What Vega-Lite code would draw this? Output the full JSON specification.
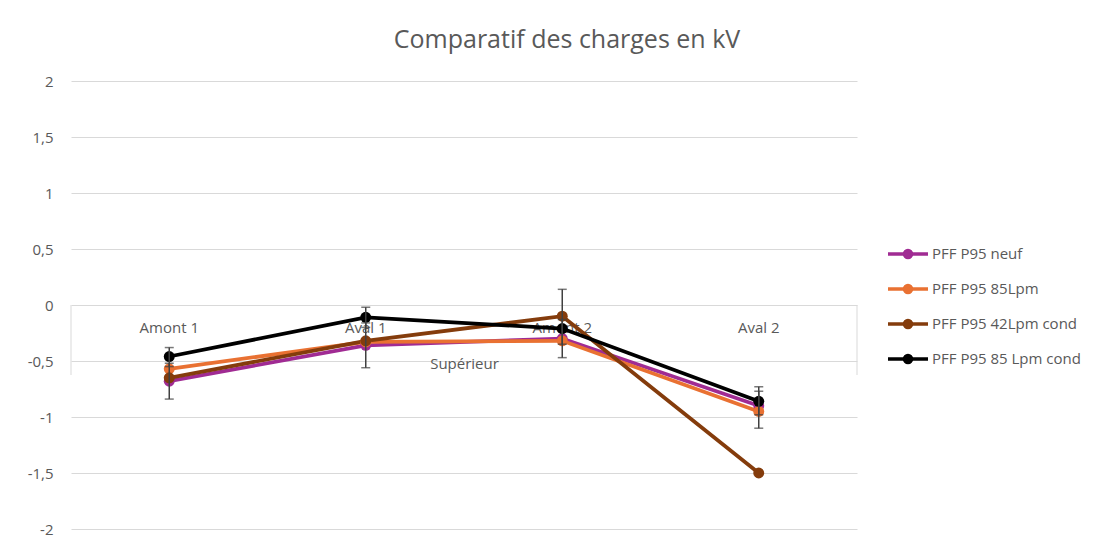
{
  "$schema": "https://vega.github.io/schema/vega-lite/v6.json",
  "width": 786,
  "height": 448,
  "padding": {"left": 71, "top": 81, "right": 242, "bottom": 21},
  "autosize": {"type": "none"},
  "background": "white",
  "config": {
    "font": "Open Sans",
    "view": {"stroke": null}
  },
  "title": {
    "text": "Comparatif des charges en kV",
    "fontSize": 25,
    "fontWeight": "normal",
    "color": "#595959",
    "font": "Open Sans",
    "dx": 103,
    "offset": 21
  },
  "datasets": {
    "series": [
      {"serie": "PFF P95 neuf", "pos": "Amont 1", "v": -0.68},
      {"serie": "PFF P95 neuf", "pos": "Aval 1", "v": -0.36},
      {"serie": "PFF P95 neuf", "pos": "Amont 2", "v": -0.30},
      {"serie": "PFF P95 neuf", "pos": "Aval 2", "v": -0.90},
      {"serie": "PFF P95 85Lpm", "pos": "Amont 1", "v": -0.57},
      {"serie": "PFF P95 85Lpm", "pos": "Aval 1", "v": -0.33},
      {"serie": "PFF P95 85Lpm", "pos": "Amont 2", "v": -0.32},
      {"serie": "PFF P95 85Lpm", "pos": "Aval 2", "v": -0.95},
      {"serie": "PFF P95 42Lpm cond", "pos": "Amont 1", "v": -0.65},
      {"serie": "PFF P95 42Lpm cond", "pos": "Aval 1", "v": -0.32},
      {"serie": "PFF P95 42Lpm cond", "pos": "Amont 2", "v": -0.10},
      {"serie": "PFF P95 42Lpm cond", "pos": "Aval 2", "v": -1.50},
      {"serie": "PFF P95 85 Lpm cond", "pos": "Amont 1", "v": -0.46},
      {"serie": "PFF P95 85 Lpm cond", "pos": "Aval 1", "v": -0.11},
      {"serie": "PFF P95 85 Lpm cond", "pos": "Amont 2", "v": -0.21},
      {"serie": "PFF P95 85 Lpm cond", "pos": "Aval 2", "v": -0.86}
    ],
    "errors": [
      {"pos": "Amont 1", "lo": -0.55, "hi": -0.38},
      {"pos": "Amont 1", "lo": -0.84, "hi": -0.52},
      {"pos": "Aval 1", "lo": -0.20, "hi": -0.02},
      {"pos": "Aval 1", "lo": -0.56, "hi": -0.16},
      {"pos": "Amont 2", "lo": -0.35, "hi": 0.14},
      {"pos": "Amont 2", "lo": -0.47, "hi": -0.13},
      {"pos": "Aval 2", "lo": -0.98, "hi": -0.73},
      {"pos": "Aval 2", "lo": -1.10, "hi": -0.77}
    ],
    "edges": [
      {"pos": "Amont 1", "top": 0, "bottom": -0.625},
      {"pos": "Aval 2", "top": 0, "bottom": -0.625}
    ]
  },
  "encoding": {
    "x": {
      "field": "pos",
      "type": "nominal",
      "sort": ["Amont 1", "Aval 1", "Amont 2", "Aval 2"],
      "scale": {"type": "band", "paddingInner": 0, "paddingOuter": 0, "domain": ["Amont 1", "Aval 1", "Amont 2", "Aval 2"]},
      "axis": {
        "title": "Supérieur",
        "titleFont": "Open Sans",
        "titleFontSize": 15,
        "titleFontWeight": "normal",
        "titleColor": "#595959",
        "titlePadding": 21,
        "labelAngle": 0,
        "labelFont": "Open Sans",
        "labelFontSize": 15,
        "labelColor": "#595959",
        "labelPadding": 15,
        "domain": false,
        "ticks": false,
        "grid": false,
        "offset": -224
      }
    }
  },
  "layer": [
    {
      "data": {"name": "edges"},
      "transform": [{"filter": "datum.pos == 'Amont 1'"}],
      "mark": {"type": "rule", "color": "#d9d9d9", "strokeWidth": 1},
      "encoding": {
        "x": {"field": "pos", "type": "nominal", "bandPosition": 0},
        "y": {"field": "top", "type": "quantitative", "scale": {"domain": [-2, 2]}},
        "y2": {"field": "bottom"}
      }
    },
    {
      "data": {"name": "edges"},
      "transform": [{"filter": "datum.pos == 'Aval 2'"}],
      "mark": {"type": "rule", "color": "#d9d9d9", "strokeWidth": 1},
      "encoding": {
        "x": {"field": "pos", "type": "nominal", "bandPosition": 1},
        "y": {"field": "top", "type": "quantitative"},
        "y2": {"field": "bottom"}
      }
    },
    {
      "data": {"name": "series"},
      "mark": {"type": "line", "strokeWidth": 3.75},
      "encoding": {
        "y": {
          "field": "v",
          "type": "quantitative",
          "scale": {"domain": [-2, 2], "nice": false},
          "axis": {
            "title": null,
            "values": [-2, -1.5, -1, -0.5, 0, 0.5, 1, 1.5, 2],
            "labelExpr": "replace(replace(format(datum.value, '.1~f'), '.', ','), '\u2212', '-')",
            "labelFont": "Open Sans",
            "labelFontSize": 15,
            "labelColor": "#595959",
            "labelPadding": 18,
            "domain": false,
            "ticks": false,
            "grid": true,
            "gridColor": "#d9d9d9",
            "gridWidth": 1
          }
        },
        "color": {
          "field": "serie",
          "type": "nominal",
          "sort": ["PFF P95 neuf", "PFF P95 85Lpm", "PFF P95 42Lpm cond", "PFF P95 85 Lpm cond"],
          "scale": {
            "domain": ["PFF P95 neuf", "PFF P95 85Lpm", "PFF P95 42Lpm cond", "PFF P95 85 Lpm cond"],
            "range": ["#A02B93", "#E97132", "#843C0C", "#000000"]
          },
          "legend": {
            "title": null,
            "orient": "none",
            "legendX": 825,
            "legendY": 161,
            "symbolType": "M-2,0H2M0.35,0A0.35,0.35,0,1,1,-0.35,0A0.35,0.35,0,1,1,0.35,0",
            "symbolSize": 400,
            "symbolStrokeWidth": 3.5,
            "labelFont": "Open Sans",
            "labelFontSize": 15,
            "labelColor": "#595959",
            "labelOffset": 12,
            "rowPadding": 12
          }
        }
      }
    },
    {
      "data": {"name": "series"},
      "mark": {"type": "point", "filled": true, "opacity": 1, "size": 120},
      "encoding": {
        "y": {"field": "v", "type": "quantitative"},
        "color": {"field": "serie", "type": "nominal", "legend": null}
      }
    },
    {
      "data": {"name": "errors"},
      "mark": {"type": "rule", "color": "#404040", "strokeWidth": 1.5},
      "encoding": {
        "y": {"field": "lo", "type": "quantitative"},
        "y2": {"field": "hi"}
      }
    },
    {
      "data": {"name": "errors"},
      "mark": {"type": "tick", "color": "#404040", "thickness": 1.5, "size": 9, "orient": "horizontal"},
      "encoding": {
        "y": {"field": "lo", "type": "quantitative"}
      }
    },
    {
      "data": {"name": "errors"},
      "mark": {"type": "tick", "color": "#404040", "thickness": 1.5, "size": 9, "orient": "horizontal"},
      "encoding": {
        "y": {"field": "hi", "type": "quantitative"}
      }
    }
  ]
}
